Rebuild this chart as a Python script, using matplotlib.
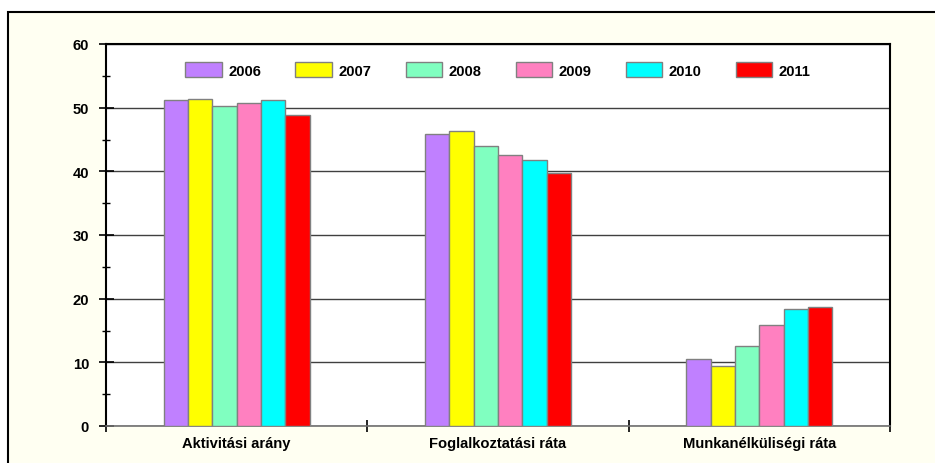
import matplotlib
matplotlib.use("Agg")
import matplotlib.pyplot as plt
from matplotlib.patches import Rectangle
import numpy as np

categories = ["Aktivitási arány", "Foglalkoztatási ráta", "Munkanélküliségi ráta"]
years = ["2006", "2007", "2008", "2009", "2010", "2011"]
values = {
    "2006": [51.2, 45.8, 10.6],
    "2007": [51.3, 46.4, 9.5],
    "2008": [50.3, 44.0, 12.6],
    "2009": [50.7, 42.6, 15.9],
    "2010": [51.2, 41.8, 18.4],
    "2011": [48.8, 39.7, 18.7],
}
colors = ["#C080FF", "#FFFF00", "#80FFC0", "#FF80C0", "#00FFFF", "#FF0000"]
yticks = [0, 10, 20, 30, 40, 50, 60]

plt.rcParams["font.family"] = ["Liberation Sans", "DejaVu Sans"]
plt.rcParams["font.weight"] = "bold"
FS = 10.65

W, H = 935, 464
fig = plt.figure(figsize=(W / 100, H / 100), dpi=100, facecolor="white")

# outer ivory frame
fig.patches.append(Rectangle((8 / W, -0.05), 1.2, (H - 13) / H + 0.05,
                             transform=fig.transFigure, facecolor="#FFFFF2",
                             edgecolor="black", linewidth=1.5, zorder=-10))

ax = fig.add_axes([106 / W, (H - 427) / H, (890 - 106) / W, (427 - 45) / H])
ax.set_zorder(5)
ax.set_facecolor("white")

x = np.arange(len(categories))
bw = 0.093
for i, (yr, col) in enumerate(zip(years, colors)):
    ax.bar(x + (i - 2.5) * bw, values[yr], width=bw, color=col,
           edgecolor="#808080", linewidth=1.0, label=yr, zorder=3)

ax.set_xlim(-0.5, 2.5)
ax.set_ylim(0, 60)
ax.set_yticks(yticks)
ax.set_yticks(np.arange(5, 60, 10), minor=True)
ax.yaxis.grid(True, which="major", color="#404040", linewidth=1.0, zorder=1)
ax.set_axisbelow(True)

ax.set_xticks([-0.5, 0.5, 1.5, 2.5])
ax.set_xticklabels([])
ax.set_xticks(x, minor=True)
ax.set_xticklabels(categories, minor=True, fontsize=FS, fontweight="bold")
ax.tick_params(axis="x", which="major", direction="inout", length=8, width=1.2, color="black")
ax.tick_params(axis="x", which="minor", length=0, pad=7)
ax.tick_params(axis="y", which="major", direction="inout", length=10.8, width=1.2,
               labelsize=FS, pad=6.8, color="black")
ax.tick_params(axis="y", which="minor", direction="inout", length=5.5, width=1.0, color="black")
for lab in ax.get_yticklabels():
    lab.set_fontweight("bold")

for s in ["left", "top", "right"]:
    ax.spines[s].set_color("black")
    ax.spines[s].set_linewidth(1.5)
ax.spines["bottom"].set_color("#707070")
ax.spines["bottom"].set_linewidth(1.2)

leg = ax.legend(loc="center", bbox_to_anchor=(0.5, 1 - 26 / 382), ncol=6,
                frameon=False, prop={"size": FS, "weight": "bold"},
                handlelength=2.45, handleheight=1.2, handletextpad=0.45,
                columnspacing=2.32)

fig.savefig("out.png", dpi=100, facecolor="white")
